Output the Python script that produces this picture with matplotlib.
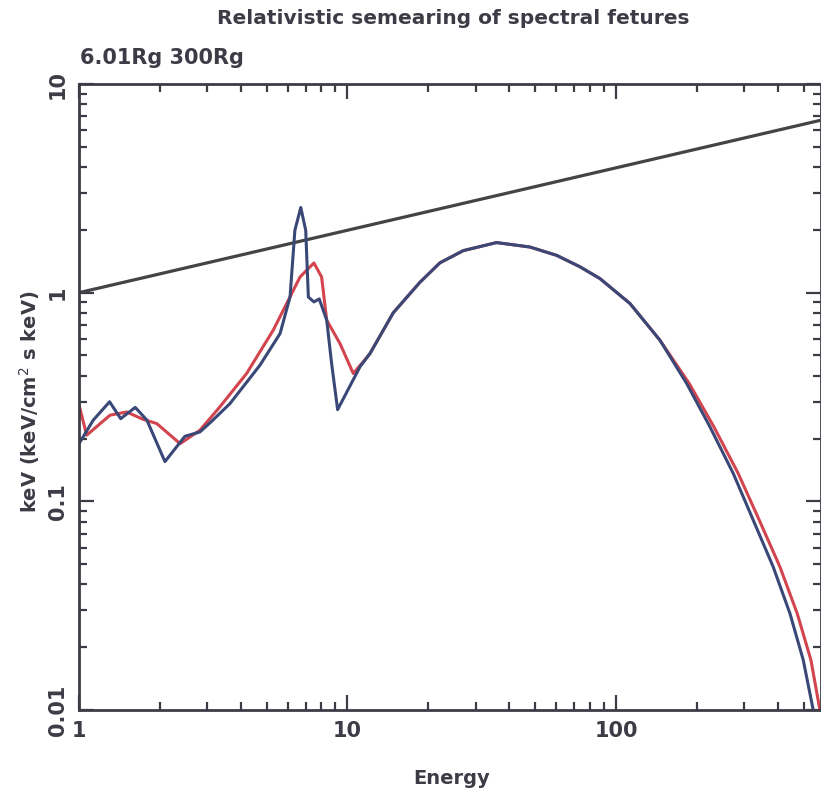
import matplotlib.pyplot as plt
import numpy as np

# power law (black line)
pl_energy = [1.0, 578.0]
pl_flux = [1.0, 6.7]

# narrow-line spectrum (blue)
blue_energy = [1.01, 1.13, 1.30, 1.43, 1.62, 1.79, 2.09, 2.48, 2.82, 3.10, 3.65,
               4.72, 5.61, 6.11, 6.37, 6.70, 6.99, 7.15, 7.50, 7.85, 8.37, 8.73,
               9.19, 11.13, 12.13, 14.8, 18.6, 22.1, 27.0, 35.9, 47.8, 60.1,
               73.5, 87.2, 112.8, 145.8, 183.4, 224.0, 273.5, 324.6, 385.0, 444.8,
               498.5, 543.0]
blue_flux = [0.193, 0.245, 0.300, 0.249, 0.282, 0.245, 0.155, 0.205, 0.215, 0.240, 0.294,
             0.449, 0.637, 0.953, 1.99, 2.56, 1.99, 0.953, 0.903, 0.933, 0.738, 0.457,
             0.275, 0.441, 0.511, 0.80, 1.12, 1.39, 1.59, 1.738, 1.655, 1.51,
             1.33, 1.168, 0.887, 0.592, 0.367, 0.2274, 0.136, 0.0813, 0.0486, 0.0290,
             0.01736, 0.010]

# relativistically smeared spectrum (red)
red_energy = [1.0, 1.068, 1.305, 1.505, 1.735, 1.947, 2.38, 2.82, 3.35, 4.21, 5.29,
              6.66, 7.50, 8.01, 8.37, 9.38, 10.51, 11.5, 12.13, 14.8, 18.6, 22.1,
              27.0, 35.9, 47.8, 60.1, 73.5, 87.2, 112.8, 145.8, 187.5, 231.7, 285.4,
              341.8, 408.0, 473.4, 532.4, 575.0]
red_flux = [0.290, 0.2075, 0.2587, 0.268, 0.247, 0.236, 0.189, 0.219, 0.284, 0.410, 0.661,
            1.19, 1.388, 1.19, 0.738, 0.570, 0.410, 0.47, 0.511, 0.80, 1.12, 1.39,
            1.59, 1.738, 1.655, 1.51, 1.33, 1.168, 0.887, 0.592, 0.367, 0.2274, 0.136,
            0.0813, 0.0486, 0.0290, 0.01736, 0.010]

x_ticks = [1, 10, 100]
x_tick_labels = ["1", "10", "100"]
y_ticks = [0.01, 0.1, 1, 10]
y_tick_labels = ["0.01", "0.1", "1", "10"]

ink = "#3c3c46"
plt.rcParams['font.family'] = ['DejaVu Sans']

fig = plt.figure(figsize=(8.21, 7.93), dpi=100)
ax = fig.add_axes([79 / 821, 83 / 793, (820.5 - 79) / 821, (710 - 84) / 793])

ax.plot(pl_energy, pl_flux, color="#444444", lw=2.3, solid_capstyle="butt")
ax.plot(red_energy, red_flux, color="#d2444e", lw=2.2, solid_joinstyle="round")
ax.plot(blue_energy, blue_flux, color="#3a4878", lw=2.2, solid_joinstyle="round")

ax.set_xscale("log")
ax.set_yscale("log")
ax.set_xlim(1, 578)
ax.set_ylim(0.01, 10)

ax.set_xticks(x_ticks)
ax.set_xticklabels(x_tick_labels)
ax.set_yticks(y_ticks)
ax.set_yticklabels(y_tick_labels, rotation=90, va="center")

ax.tick_params(which="both", direction="in", top=True, right=True, color=ink,
               labelcolor=ink, labelsize=15, width=1.6)
ax.tick_params(which="major", length=11, pad=8)
ax.tick_params(which="minor", length=6)
for lbl in ax.get_xticklabels() + ax.get_yticklabels():
    lbl.set_fontweight("bold")

for s in ax.spines.values():
    s.set_color(ink)
    s.set_linewidth(2)

fig.text(453 / 821, 1 - 18 / 793, "Relativistic semearing of spectral fetures",
         ha="center", va="center", fontsize=14.5, fontweight="bold", color=ink)
fig.text(80 / 821, 1 - 58 / 793, "6.01Rg 300Rg", ha="left", va="center",
         fontsize=15, fontweight="bold", color=ink)
fig.text(452 / 821, 1 - 778 / 793, "Energy", ha="center", va="center",
         fontsize=14, fontweight="bold", color=ink)
fig.text(30 / 821, 1 - 402 / 793, "keV (keV/cm$^2$ s keV)", rotation=90,
         ha="center", va="center", fontsize=14, fontweight="bold", color=ink)

fig.savefig("out.png", dpi=100, facecolor="white")
